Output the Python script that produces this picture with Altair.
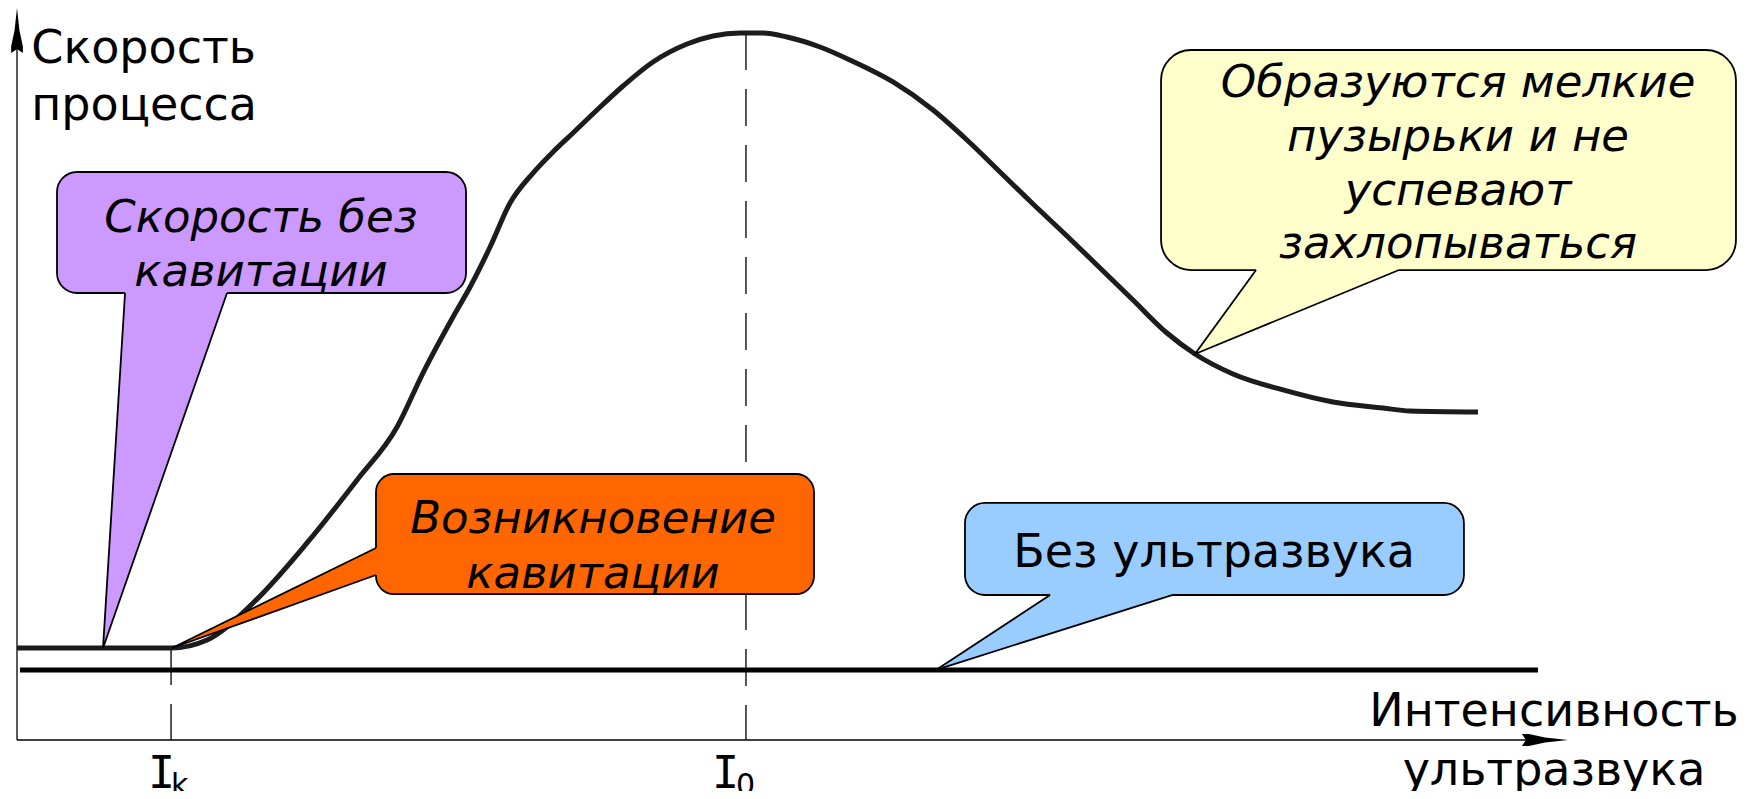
import altair as alt
import pandas as pd

# ---------------- data (chart units: intensity 0-100 on x, process rate 0-100 on y) ----------------
curve_x = [0.0, 9.94, 12.26, 15.23, 18.71, 21.94, 24.52, 26.19, 28.13, 29.23, 30.52,
           31.81, 33.29, 34.58, 35.87, 37.42, 39.10, 41.03, 43.23, 44.90, 46.65,
           48.13, 49.68, 51.81, 53.74, 56.52, 59.10, 61.29, 63.42, 65.55, 67.74,
           69.87, 72.00, 74.19, 76.00, 78.45, 81.68, 84.90, 88.13, 89.87, 94.26]
curve_y = [12.6, 12.6, 13.7, 18.77, 26.99, 35.62, 42.88, 50.27, 57.95, 62.05, 67.53,
           73.56, 77.67, 80.55, 83.15, 86.30, 89.59, 92.88, 95.34, 96.44, 96.85,
           96.85, 96.30, 94.93, 93.15, 90.14, 86.30, 82.19, 77.81, 73.42, 69.04,
           64.66, 60.27, 55.75, 52.88, 50.14, 47.95, 46.30, 45.48, 45.07, 44.93]

I_K, I_0 = 9.94, 47.03
marker_x = [I_K, I_0]
marker_top = [12.6, 96.85]

no_us_x = [0.19, 98.13]
no_us_y = 9.59

axis_x_end, axis_y_end = 97.5, 95.0
arrow_x_pos = [98.58, 0.0]
arrow_y_pos = [0.0, 97.2]

# callout boxes: x0, x1, y0, y1
box_purple = [2.58, 28.97, 61.23, 77.81]
box_orange = [23.16, 51.42, 19.99, 36.44]
box_yellow = [73.81, 110.9, 64.38, 94.52]
box_blue = [61.16, 93.35, 19.86, 32.47]

# tails with horizontal base: apex (x, y), base left x, base right x, base y
tail_ids = ["purple", "yellow", "blue"]
tail_apex_x = [5.55, 76.0, 59.29]
tail_apex_y = [12.6, 52.88, 9.6]
tail_base_l = [6.97, 79.94, 66.65]
tail_base_r = [13.55, 89.16, 74.52]
tail_base_y = [61.23, 64.38, 19.86]
# orange tail with vertical base on the box's left edge
otail_apex = [10.0, 12.6]
otail_base_x = 23.16
otail_base_top, otail_base_bottom = 26.30, 22.60

purple_lines = ["Скорость без", "кавитации"]
purple_text_x, purple_text_y = 15.74, [69.59, 62.19]
orange_lines = ["Возникновение", "кавитации"]
orange_text_x, orange_text_y = 37.16, [28.36, 20.82]
yellow_lines = ["Образуются мелкие", "пузырьки и не", "успевают", "захлопываться"]
yellow_text_x, yellow_text_y = 92.97, [88.08, 80.68, 73.29, 66.03]
blue_line = "Без ультразвука"
blue_text_x, blue_text_y = 77.23, 23.70

y_title = ["Скорость", "процесса"]
y_title_x, y_title_y = 0.92, [92.74, 84.93]
x_title = ["Интенсивность", "ультразвука"]
x_title_x, x_title_y = 99.16, [1.92, -6.16]

tick_I_x = [9.32, 45.71]
tick_I_y = -6.58
tick_sub = ["k", "0"]
tick_sub_x = [9.94, 46.39]
tick_sub_y = -7.53

# ---------------- styles ----------------
PURPLE, ORANGE, YELLOW, BLUE = "#CC99FF", "#FF6600", "#FFFFCC", "#99CCFF"
FILLS = {"purple": PURPLE, "yellow": YELLOW, "blue": BLUE}
FONT = "DejaVu Sans"
W, H = 1550, 730
xs = alt.Scale(domain=[0, 100], nice=False, zero=False)
ys = alt.Scale(domain=[0, 100], nice=False, zero=False)


def X(f):
    return alt.X(f, type="quantitative", scale=xs, axis=None)


def Y(f):
    return alt.Y(f, type="quantitative", scale=ys, axis=None)


layers = []

# axes
axes_df = pd.DataFrame({"x": [0, 0], "x2": [0, axis_x_end], "y": [0, 0], "y2": [axis_y_end, 0]})
layers.append(alt.Chart(axes_df).mark_rule(color="black", strokeWidth=1.3).encode(
    x=X("x"), x2=alt.X2("x2"), y=Y("y"), y2=alt.Y2("y2")))

X_ARROW = "M1,0L0,-0.11L-0.7,-0.26L-1,-0.26L-0.83,0L-1,0.26L-0.7,0.26L0,0.11Z"
Y_ARROW = "M0,-1L-0.11,0L-0.26,0.7L-0.26,1L0,0.83L0.26,1L0.26,0.7L0.11,0Z"
layers.append(alt.Chart(pd.DataFrame({"x": [arrow_x_pos[0]], "y": [arrow_x_pos[1]]})).mark_point(
    shape=X_ARROW, size=2116, filled=True, fill="black", opacity=1, strokeWidth=0).encode(x=X("x"), y=Y("y")))
layers.append(alt.Chart(pd.DataFrame({"x": [arrow_y_pos[0]], "y": [arrow_y_pos[1]]})).mark_point(
    shape=Y_ARROW, size=2025, filled=True, fill="black", opacity=1, strokeWidth=0).encode(x=X("x"), y=Y("y")))

# dashed markers
dash_df = pd.DataFrame({"x": marker_x, "top": marker_top, "bottom": [0, 0]})
layers.append(alt.Chart(dash_df).mark_rule(color="#111111", strokeWidth=1.4, strokeDash=[37, 19]).encode(
    x=X("x"), y=Y("top"), y2=alt.Y2("bottom")))

# no-ultrasound line
nu_df = pd.DataFrame({"x": [no_us_x[0]], "x2": [no_us_x[1]], "y": [no_us_y]})
layers.append(alt.Chart(nu_df).mark_rule(color="black", strokeWidth=5, strokeCap="butt").encode(
    x=X("x"), x2=alt.X2("x2"), y=Y("y")))

# main curve
curve_df = pd.DataFrame({"x": curve_x, "y": curve_y})
layers.append(alt.Chart(curve_df).mark_line(color="#1c1c1c", strokeWidth=5, interpolate="monotone").encode(
    x=X("x"), y=Y("y")))

# boxes
for box, col, r in [(box_purple, PURPLE, 20), (box_orange, ORANGE, 18), (box_yellow, YELLOW, 30), (box_blue, BLUE, 20)]:
    bdf = pd.DataFrame({"x0": [box[0]], "x1": [box[1]], "y0": [box[2]], "y1": [box[3]]})
    layers.append(alt.Chart(bdf).mark_rect(cornerRadius=r, fill=col, stroke="black", strokeWidth=1.8).encode(
        x=X("x0"), x2=alt.X2("x1"), y=Y("y0"), y2=alt.Y2("y1")))

# tail fills (horizontal base): apex row, base row, small overlap into the box
rows = []
for i, tid in enumerate(tail_ids):
    rows.append({"id": tid, "y": tail_apex_y[i], "xa": tail_apex_x[i], "xb": tail_apex_x[i], "fill": FILLS[tid]})
    rows.append({"id": tid, "y": tail_base_y[i], "xa": tail_base_l[i], "xb": tail_base_r[i], "fill": FILLS[tid]})
    rows.append({"id": tid, "y": tail_base_y[i] + 0.4, "xa": tail_base_l[i], "xb": tail_base_r[i], "fill": FILLS[tid]})
tf_df = pd.DataFrame(rows)
layers.append(alt.Chart(tf_df).mark_area(orient="horizontal", opacity=1).encode(
    y=Y("y"), x=X("xa"), x2=alt.X2("xb"), detail="id:N", fill=alt.Fill("fill:N", scale=None)))

of_df = pd.DataFrame({"x": [otail_apex[0], otail_base_x, otail_base_x + 0.25],
                      "ya": [otail_apex[1], otail_base_bottom, otail_base_bottom],
                      "yb": [otail_apex[1], otail_base_top, otail_base_top]})
layers.append(alt.Chart(of_df).mark_area(orient="vertical", opacity=1, fill=ORANGE).encode(
    x=X("x"), y=Y("ya"), y2=alt.Y2("yb")))

# tail edges
erows = []
for i, tid in enumerate(tail_ids):
    erows += [{"id": tid, "o": 0, "x": tail_base_l[i], "y": tail_base_y[i]},
              {"id": tid, "o": 1, "x": tail_apex_x[i], "y": tail_apex_y[i]},
              {"id": tid, "o": 2, "x": tail_base_r[i], "y": tail_base_y[i]}]
erows += [{"id": "orange", "o": 0, "x": otail_base_x, "y": otail_base_top},
          {"id": "orange", "o": 1, "x": otail_apex[0], "y": otail_apex[1]},
          {"id": "orange", "o": 2, "x": otail_base_x, "y": otail_base_bottom}]
e_df = pd.DataFrame(erows)
layers.append(alt.Chart(e_df).mark_line(color="black", strokeWidth=1.8, strokeJoin="miter").encode(
    x=X("x"), y=Y("y"), detail="id:N", order="o:Q"))

# callout texts
it_rows = [{"t": t, "x": purple_text_x, "y": y} for t, y in zip(purple_lines, purple_text_y)]
it_rows += [{"t": t, "x": orange_text_x, "y": y} for t, y in zip(orange_lines, orange_text_y)]
it_rows += [{"t": t, "x": yellow_text_x, "y": y} for t, y in zip(yellow_lines, yellow_text_y)]
layers.append(alt.Chart(pd.DataFrame(it_rows)).mark_text(
    font=FONT, fontStyle="italic", fontSize=45, align="center", baseline="alphabetic", color="black").encode(
    x=X("x"), y=Y("y"), text="t:N"))
layers.append(alt.Chart(pd.DataFrame({"t": [blue_line], "x": [blue_text_x], "y": [blue_text_y]})).mark_text(
    font=FONT, fontSize=46, align="center", baseline="alphabetic", color="black").encode(
    x=X("x"), y=Y("y"), text="t:N"))

# axis titles
layers.append(alt.Chart(pd.DataFrame({"t": y_title, "x": [y_title_x] * 2, "y": y_title_y})).mark_text(
    font=FONT, fontSize=46, align="left", baseline="alphabetic", color="black").encode(
    x=X("x"), y=Y("y"), text="t:N"))
layers.append(alt.Chart(pd.DataFrame({"t": x_title, "x": [x_title_x] * 2, "y": x_title_y})).mark_text(
    font=FONT, fontSize=46, align="center", baseline="alphabetic", color="black").encode(
    x=X("x"), y=Y("y"), text="t:N"))

# tick labels I_k, I_0
layers.append(alt.Chart(pd.DataFrame({"t": ["I", "I"], "x": tick_I_x, "y": [tick_I_y] * 2})).mark_text(
    font="DejaVu Sans Mono", fontSize=45, align="center", baseline="alphabetic", color="black").encode(
    x=X("x"), y=Y("y"), text="t:N"))
layers.append(alt.Chart(pd.DataFrame({"t": tick_sub, "x": tick_sub_x, "y": [tick_sub_y] * 2})).mark_text(
    font=FONT, fontSize=30, align="left", baseline="alphabetic", color="black").encode(
    x=X("x"), y=Y("y"), text="t:N"))

chart = alt.layer(*layers).properties(
    width=W, height=H,
    padding={"left": 9, "top": 2, "right": 172, "bottom": 51},
    autosize=alt.AutoSizeParams(type="none"),
).configure_view(strokeWidth=0)

chart.save("out.html", embed_options={"renderer": "svg", "actions": False})
